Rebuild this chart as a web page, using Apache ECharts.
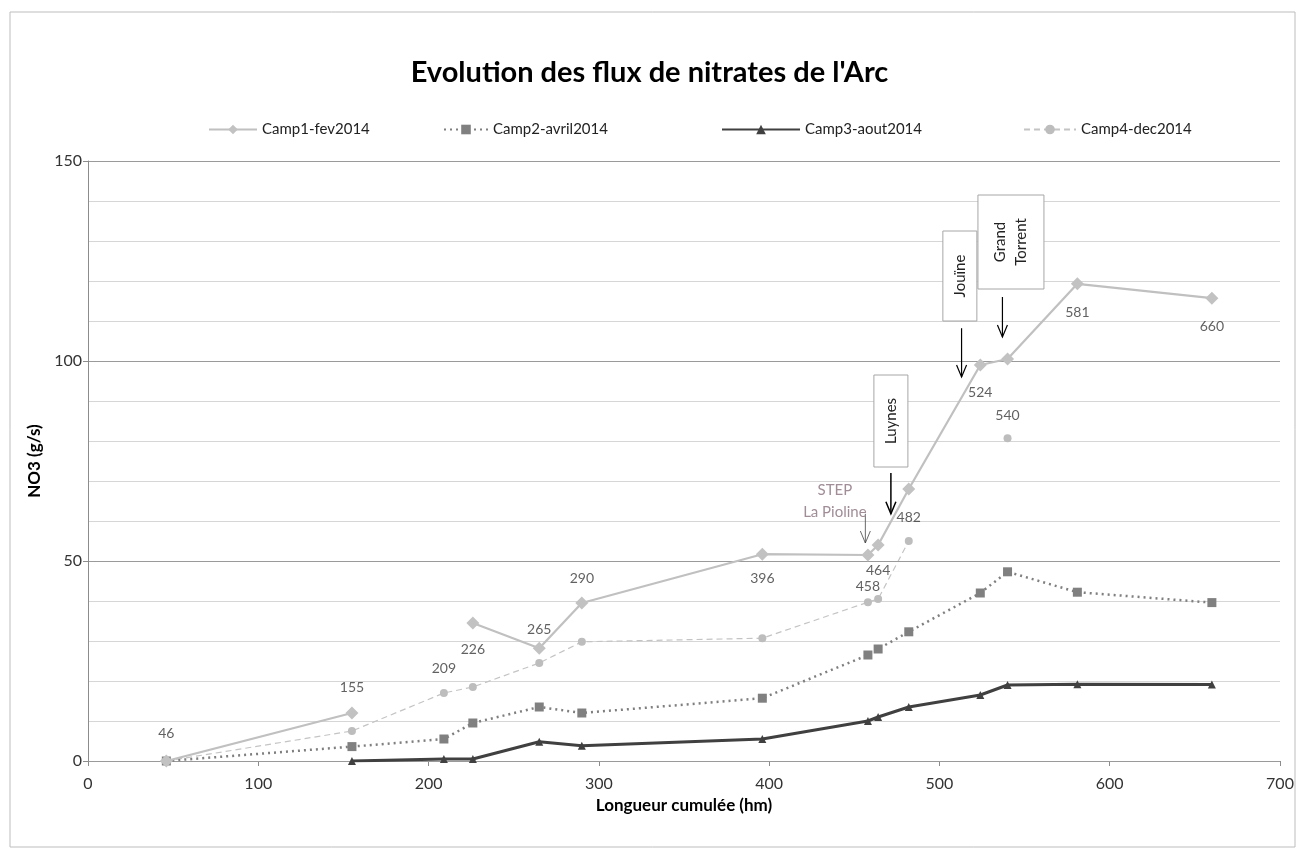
<!DOCTYPE html>
<html>
<head>
<meta charset="utf-8">
<script src="https://cdn.jsdelivr.net/npm/echarts@6/dist/echarts.min.js"></script>
<style>
html,body{margin:0;padding:0;background:#fff;}
#chart{width:1299px;height:855px;}
</style>
</head>
<body>
<div id="chart"></div>
<script>
// ---- data ----
const distances = [46, 155, 209, 226, 265, 290, 396, 458, 464, 482, 524, 540, 581, 660];
const camp1 = [0, 12, null, 34.5, 28.2, 39.5, 51.7, 51.5, 54, 68, 99, 100.5, 119.3, 115.7];
const camp2 = [0, 3.6, 5.5, 9.5, 13.5, 12, 15.7, 26.5, 28, 32.3, 42, 47.3, 42.2, 39.6];
const camp3 = [null, 0, 0.5, 0.5, 4.8, 3.8, 5.5, 10, 11, 13.5, 16.5, 19, 19.2, 19.1];
const camp4 = [0, 7.5, 17, 18.5, 24.5, 29.8, 30.7, 39.7, 40.5, 55, null, 80.7, null, null];
const seriesNames = ['Camp1-fev2014', 'Camp2-avril2014', 'Camp3-aout2014', 'Camp4-dec2014'];
// distance labels: [distance, y where the text sits]
const distLabelY = [7, 18.5, 23.2, 28, 33, 45.7, 45.7, 43.7, 47.7, 61, 92.2, 86.5, 112.2, 108.7];
const yMajorStep = 50;
const yMinorStep = 10;
const xStep = 100;
// annotations (data coords)
const boxes = [
  {text: 'Luynes', x: 471.5, yTop: 96.5, yBottom: 73.5, w: 34, arrow: {x: 471.5, y1: 72, y2: 61.8, lw: 1.5}},
  {text: 'Jouïne', x: 512, yTop: 132.5, yBottom: 110, w: 34, arrow: {x: 513, y1: 108.2, y2: 96, lw: 1.2}},
  {text: 'Grand\nTorrent', x: 542, yTop: 141.5, yBottom: 118, w: 66, arrow: {x: 537, y1: 116, y2: 106, lw: 1.2}}
];
const stepNote = {text: 'STEP\nLa Pioline', x: 438.6, y: 65, arrow: {x: 456.5, y1: 61.8, y2: 54.5, lw: 0.8}};

const FONT = 'Lato, "Open Sans", sans-serif';

function pairs(arr) { return distances.map((d, i) => [d, arr[i]]); }

const chart = echarts.init(document.getElementById('chart'));
const option = {
  backgroundColor: '#fff',
  animation: false,
  title: {
    text: "Evolution des flux de nitrates de l'Arc",
    left: 'center', top: 53,
    textStyle: {fontFamily: FONT, fontSize: 29, fontWeight: 'bold', color: '#000'}
  },
  legend: [0,1,2,3].map((i) => ({
    data: [seriesNames[i]],
    left: [203, 438, 716, 1018][i], top: 117,
    itemWidth: [48, 44, 78, 52][i], itemHeight: 12,
    textStyle: {fontFamily: FONT, fontSize: 15, color: '#222'}
  })),
  grid: {left: 88, right: 19, top: 161, bottom: 94, containLabel: false},
  xAxis: {
    type: 'value', min: 0, max: 700, interval: xStep,
    name: 'Longueur cumulée (hm)', nameLocation: 'middle', nameGap: 36,
    nameTextStyle: {fontFamily: FONT, fontSize: 17, fontWeight: 'bold', color: '#000'},
    axisLine: {show: true, lineStyle: {color: '#8c8c8c', width: 1}},
    axisTick: {show: true, length: 5, lineStyle: {color: '#8c8c8c'}},
    axisLabel: {fontFamily: FONT, fontSize: 16, color: '#333', margin: 15},
    splitLine: {show: false}
  },
  yAxis: [
    {
      type: 'value', min: 0, max: 150, interval: yMajorStep,
      name: 'NO3 (g/s)', nameLocation: 'middle', nameGap: 42, nameRotate: 90,
      nameTextStyle: {fontFamily: FONT, fontSize: 17, fontWeight: 'bold', color: '#000'},
      axisLine: {show: true, lineStyle: {color: '#8c8c8c', width: 1}},
      axisTick: {show: true, length: 5, lineStyle: {color: '#8c8c8c'}},
      axisLabel: {fontFamily: FONT, fontSize: 16, color: '#333', margin: 6},
      splitLine: {show: true, lineStyle: {color: '#9a9a9a', width: 1}},
      z: 3
    },
    {
      type: 'value', min: 0, max: 150, interval: yMinorStep, position: 'left',
      axisLine: {show: false}, axisTick: {show: false}, axisLabel: {show: false},
      splitLine: {show: true, lineStyle: {color: '#d6d6d6', width: 1}},
      z: 1
    }
  ],
  series: [
    {
      name: seriesNames[3], type: 'line', data: pairs(camp4), z: 2,
      symbol: 'circle', symbolSize: 8, connectNulls: false,
      lineStyle: {color: '#c4c4c4', width: 1.2, type: [6, 4]},
      itemStyle: {color: '#bdbdbd'}
    },
    {
      name: seriesNames[1], type: 'line', data: pairs(camp2), z: 3,
      symbol: 'rect', symbolSize: 9, connectNulls: false,
      lineStyle: {color: '#7f7f7f', width: 2.5, type: [2, 4]},
      itemStyle: {color: '#808080'}
    },
    {
      name: seriesNames[2], type: 'line', data: pairs(camp3), z: 4,
      symbol: 'triangle', symbolSize: 8, connectNulls: false,
      lineStyle: {color: '#404040', width: 3},
      itemStyle: {color: '#404040'}
    },
    {
      name: seriesNames[0], type: 'line', data: pairs(camp1), z: 5,
      symbol: 'diamond', symbolSize: 13, connectNulls: false,
      lineStyle: {color: '#c0c0c0', width: 2.2},
      itemStyle: {color: '#c2c2c2'}
    },
    {
      name: 'distances', type: 'scatter', z: 6, silent: true,
      data: distances.map((d, i) => [d, distLabelY[i]]),
      symbolSize: 0,
      label: {
        show: true, position: 'inside', formatter: (p) => String(p.value[0]),
        fontFamily: FONT, fontSize: 14, color: '#3a3a3a'
      }
    }
  ]
};
chart.setOption(option);

// annotations placed through the chart's own coordinate conversion
function P(x, y) { return chart.convertToPixel({gridIndex: 0}, [x, y]); }
function arrow(a, color) {
  const p1 = P(a.x, a.y1), p2 = P(a.x, a.y2);
  return [
    {type: 'line', z: 20, shape: {x1: p1[0], y1: p1[1], x2: p2[0], y2: p2[1]}, style: {stroke: color, lineWidth: a.lw}},
    {type: 'polyline', z: 20, shape: {points: [[p2[0] - 5, p2[1] - 12], [p2[0], p2[1]], [p2[0] + 5, p2[1] - 12]]}, style: {stroke: color, lineWidth: a.lw, fill: null}}
  ];
}
const gfx = [];
gfx.push({type: 'rect', z: -1, shape: {x: 10, y: 12, width: 1285, height: 835}, style: {fill: null, stroke: '#bdbdbd', lineWidth: 1}});
boxes.forEach((b) => {
  const top = P(b.x, b.yTop), bot = P(b.x, b.yBottom);
  const cx = top[0], h = bot[1] - top[1];
  gfx.push({type: 'rect', z: 19, shape: {x: cx - b.w / 2, y: top[1], width: b.w, height: h}, style: {fill: '#fff', stroke: '#a6a6a6', lineWidth: 1}});
  gfx.push({type: 'text', z: 21, x: cx, y: top[1] + h / 2, rotation: Math.PI / 2,
    style: {text: b.text, fontFamily: FONT, fontSize: 15, fill: '#222', align: 'center', verticalAlign: 'middle', lineHeight: 21}});
  gfx.push(...arrow(b.arrow, '#000'));
});
const sp = P(stepNote.x, stepNote.y);
gfx.push({type: 'text', z: 21, x: sp[0], y: sp[1],
  style: {text: stepNote.text, fontFamily: FONT, fontSize: 15, fill: '#a08d97', align: 'center', verticalAlign: 'middle', lineHeight: 22}});
gfx.push(...arrow(stepNote.arrow, '#444'));
chart.setOption({graphic: gfx});
</script>
</body>
</html>
